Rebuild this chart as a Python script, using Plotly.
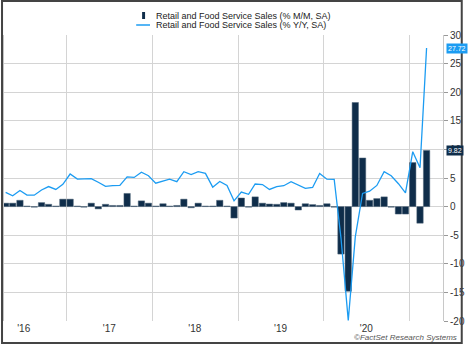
import plotly.graph_objects as go
import pandas as pd

# ---- data ----
months = pd.date_range("2016-04-01", "2021-03-01", freq="MS")
dates = [d + pd.Timedelta(days=14) for d in months]

mm_sales = [0.6, 0.6, 1.1, 0.1, -0.1, 0.7, 0.4, 0.1, 1.3,
            1.3, 0.1, -0.1, 0.6, -0.4, 0.4, 0.2, 0.2, 2.3, 0.1, 1.0, 0.6,
            0.1, 0.5, 0.1, 0.2, 1.3, -0.2, 0.6, 0.1, 0.1, 1.1, 0.1, -2.0,
            1.5, -0.1, 1.7, 0.6, 0.45, 0.4, 0.7, 0.6, -0.6, 0.5, 0.35, 0.2,
            0.5, -0.1, -8.3, -14.8, 18.2, 8.5, 1.1, 1.4, 1.7, -0.1, -1.3, -1.3,
            7.7, -2.9, 9.82]

yy_sales = [2.5, 1.9, 2.8, 2.0, 2.0, 2.9, 3.5, 3.0, 3.9,
            5.7, 4.8, 4.8, 4.9, 4.25, 3.55, 3.65, 3.7, 5.2, 5.1, 6.0, 5.4,
            4.1, 4.5, 4.8, 4.35, 6.1, 5.6, 6.1, 5.8, 3.4, 4.4, 3.7, 1.0,
            2.55, 2.15, 3.95, 3.85, 3.0, 3.5, 3.65, 4.35, 3.8, 3.2, 3.35, 5.8,
            4.8, 4.75, -5.5, -19.9, -5.3, 2.3, 2.7, 3.7, 6.1, 5.4, 4.0, 2.4,
            9.6, 6.8, 27.72]

year_label_dates = ["2016-07-01", "2017-07-01", "2018-07-01", "2019-07-01", "2020-07-01"]
year_labels = ["'16", "'17", "'18", "'19", "'20"]
y_ticks = [-20, -15, -10, -5, 0, 5, 10, 15, 20, 25, 30]
y_tick_text = ["-20", "-15", "-10", "-5", "0", "5", "10", "15", "20", "25", "30"]

name_mm = "Retail and Food Service Sales (% M/M, SA)"
name_yy = "Retail and Food Service Sales (% Y/Y, SA)"

BAR = "#0f2d4a"
LINE = "#1c9cf2"
FONT = "Arial, Liberation Sans, sans-serif"

W, H = 468, 344
L, R, T, B = 3, 20, 35, 23
PW, PH = W - L - R, H - T - B

def px(x):
    return (x - L) / PW

def py(y):
    return (H - B - y) / PH

fig = go.Figure()
fig.add_trace(go.Bar(x=dates, y=mm_sales, name=name_mm, marker=dict(color=BAR, line=dict(color="#4f6478", width=0.5)),
                     showlegend=False))
fig.add_trace(go.Scatter(x=dates, y=yy_sales, name=name_yy, mode="lines",
                         line=dict(color=LINE, width=1.3), showlegend=False))

fig.update_layout(
    width=W, height=H,
    margin=dict(l=L, r=R, t=T, b=B),
    paper_bgcolor="white", plot_bgcolor="white",
    bargap=0.03,
    font=dict(family=FONT, size=10, color="#333333"),
    xaxis=dict(
        type="date",
        range=["2016-04-08", "2021-05-24"],
        tickmode="array", tickvals=year_label_dates, ticktext=year_labels,
        showgrid=False, ticks="", tickfont=dict(size=10, color="#333333"),
        minor=dict(tick0="2016-01-01", dtick="M12", showgrid=True, gridcolor="#d4d4d4", gridwidth=1, ticks=""),
        showline=False, zeroline=False,
    ),
    yaxis=dict(
        side="right", range=[-20, 30],
        tickmode="array", tickvals=y_ticks, ticktext=y_tick_text,
        showgrid=True, gridcolor="#d4d4d4", gridwidth=1,
        zeroline=False,
        showline=True, linecolor="#c8c8c8", linewidth=1, mirror=True,
        ticks="outside", ticklen=4, tickcolor="#999999",
        tickfont=dict(size=10, color="#333333"),
    ),
)

# last-value tags on the right axis
fig.add_annotation(xref="paper", yref="y", x=px(451), y=yy_sales[-1], xanchor="left", yanchor="middle",
                   text=f"{yy_sales[-1]:.2f}", showarrow=False, bgcolor=LINE,
                   font=dict(size=7, color="white", family=FONT), borderpad=1)
fig.add_annotation(xref="paper", yref="y", x=px(451), y=mm_sales[-1], xanchor="left", yanchor="middle",
                   text=f"{mm_sales[-1]:.2f}", showarrow=False, bgcolor=BAR,
                   font=dict(size=7, color="white", family=FONT), borderpad=1)

# custom legend
fig.add_shape(type="rect", xref="paper", yref="paper", x0=px(143), x1=px(146), y0=py(19), y1=py(12),
              fillcolor=BAR, line=dict(width=0))
fig.add_shape(type="line", xref="paper", yref="paper", x0=px(137), x1=px(151), y0=py(25), y1=py(25),
              line=dict(color=LINE, width=1.5))
fig.add_annotation(xref="paper", yref="paper", x=px(155), y=py(16), xanchor="left", yanchor="middle",
                   text=name_mm, showarrow=False, font=dict(size=9, color="#222222", family=FONT))
fig.add_annotation(xref="paper", yref="paper", x=px(155), y=py(25), xanchor="left", yanchor="middle",
                   text=name_yy, showarrow=False, font=dict(size=9, color="#222222", family=FONT))

# credit
fig.add_annotation(xref="paper", yref="paper", x=px(464), y=py(337), xanchor="right", yanchor="middle",
                   text="<i>©FactSet Research Systems</i>", showarrow=False,
                   font=dict(size=8, color="#555555", family=FONT))

# outer frame
fig.add_shape(type="rect", xref="paper", yref="paper", x0=px(1), x1=px(467), y0=py(343), y1=py(1),
              line=dict(color="#444444", width=2), fillcolor="rgba(0,0,0,0)", layer="above")

fig.write_html("out.html")
